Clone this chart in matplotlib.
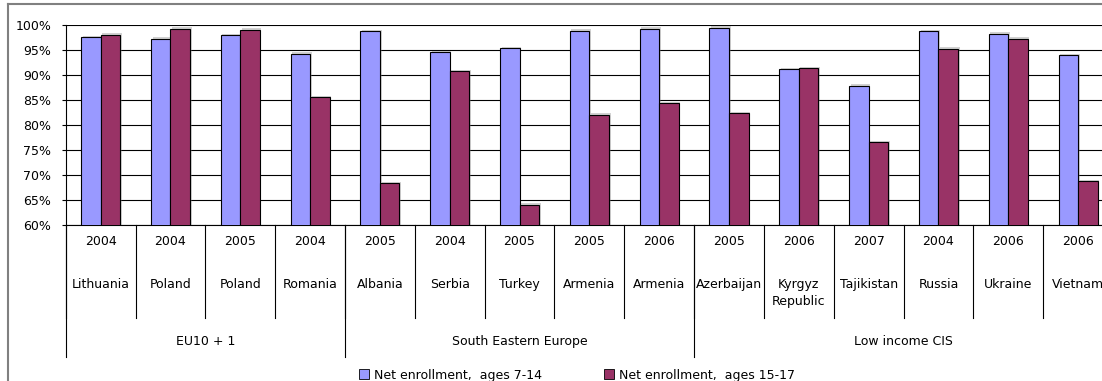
import numpy as np
import matplotlib
matplotlib.use("Agg")
import matplotlib.pyplot as plt
from matplotlib.lines import Line2D
from matplotlib import patheffects as pe
import matplotlib.transforms as mtransforms

# data
years = ["2004", "2004", "2005", "2004", "2005", "2004", "2005", "2005", "2006",
         "2005", "2006", "2007", "2004", "2006", "2006"]
countries = ["Lithuania", "Poland", "Poland", "Romania", "Albania", "Serbia", "Turkey",
             "Armenia", "Armenia", "Azerbaijan", "Kyrgyz\nRepublic", "Tajikistan",
             "Russia", "Ukraine", "Vietnam"]
groups = ["EU10 + 1", "South Eastern Europe", "Low income CIS"]
group_sizes = [4, 5, 6]
ages_7_14 = [97.5, 97.2, 97.9, 94.2, 98.7, 94.5, 95.3, 98.8, 99.2, 99.4, 91.1, 87.8,
             98.7, 98.2, 93.9]
ages_15_17 = [98.0, 99.2, 99.0, 85.5, 68.3, 90.7, 64.0, 82.0, 84.3, 82.3, 91.3, 76.5,
              95.2, 97.2, 68.7]
series_names = ["Net enrollment,  ages 7-14", "Net enrollment,  ages 15-17"]
colors = ["#9999FF", "#993366"]

plt.rcParams["font.family"] = "DejaVu Sans"
plt.rcParams["font.size"] = 9

W, H = 1102, 381
fig = plt.figure(figsize=(W / 100, H / 100), dpi=100)
fig.patch.set_facecolor("white")

# plot area in pixels: x 66..1113, y 25..225 (runs past right edge)
ax = fig.add_axes([65.7 / W, 1 - 225 / H, (1113 - 65.7) / W, 200 / H])

x = np.arange(len(countries))
bw = 0.28
shadow = [pe.SimplePatchShadow(offset=(1.2, 1.2), shadow_rgbFace="gray", alpha=0.35),
          pe.Normal()]
for vals, off, c in [(ages_7_14, -bw / 2, colors[0]), (ages_15_17, bw / 2, colors[1])]:
    bars = ax.bar(x + off, vals, width=bw, color=c, edgecolor="black", linewidth=0.8,
                  zorder=3)
    for b in bars:
        b.set_path_effects(shadow)

ax.set_xlim(-0.5, len(countries) - 0.5)
ax.set_ylim(60, 100)
ax.set_yticks(np.arange(60, 101, 5))
ax.set_yticklabels([f"{v}%" for v in range(60, 101, 5)])
ax.yaxis.grid(True, color="black", linewidth=0.8, zorder=0)
ax.set_axisbelow(True)
ax.tick_params(axis="y", length=3, width=0.8, pad=7.5, labelsize=9)
ax.set_xticks([])
for s in ["top", "right", "bottom"]:
    ax.spines[s].set_visible(False)
ax.spines["left"].set_linewidth(0.8)

# multi-level category axis
trans = mtransforms.blended_transform_factory(ax.transData, ax.transAxes)
ax.plot([-0.5, len(countries) - 0.5], [0, 0], color="black", lw=0.8,
        transform=trans, clip_on=False)
for i in range(len(countries) + 1):
    ax.plot([i - 0.5, i - 0.5], [0, -0.465], color="black", lw=0.8,
            transform=trans, clip_on=False)
bounds = np.concatenate([[0], np.cumsum(group_sizes)])
for b in bounds[:-1]:
    ax.plot([b - 0.5, b - 0.5], [0, -0.66], color="black", lw=0.8,
            transform=trans, clip_on=False)
for i, (yr, ct) in enumerate(zip(years, countries)):
    ax.text(i, -0.085, yr, ha="center", va="center", transform=trans)
    for k, line in enumerate(ct.split("\n")):
        ax.text(i, -0.30 - 0.085 * k, line, ha="center", va="center", transform=trans)
for g, a, b in zip(groups, bounds[:-1], bounds[1:]):
    ax.text((a + b - 1) / 2, -0.585, g, ha="center", va="center", transform=trans)

# outer frame (runs off right and bottom)
fig.add_artist(Line2D([8 / W, 8 / W], [0, 1 - 4 / H], color="#808080", lw=1.5))
fig.add_artist(Line2D([8 / W, 1], [1 - 4 / H, 1 - 4 / H], color="#808080", lw=1.5))

handles = [Line2D([], [], marker="s", linestyle="", markersize=6.5, markerfacecolor=c,
                  markeredgecolor="black", markeredgewidth=0.6) for c in colors]
fig.legend(handles, series_names, loc="center", bbox_to_anchor=(577 / W, 1 - 375 / H),
           ncol=2, frameon=False, handlelength=0.8, handletextpad=0.4,
           columnspacing=5.0, fontsize=9, borderpad=0)

plt.savefig("out.png", dpi=100)
plt.close()
